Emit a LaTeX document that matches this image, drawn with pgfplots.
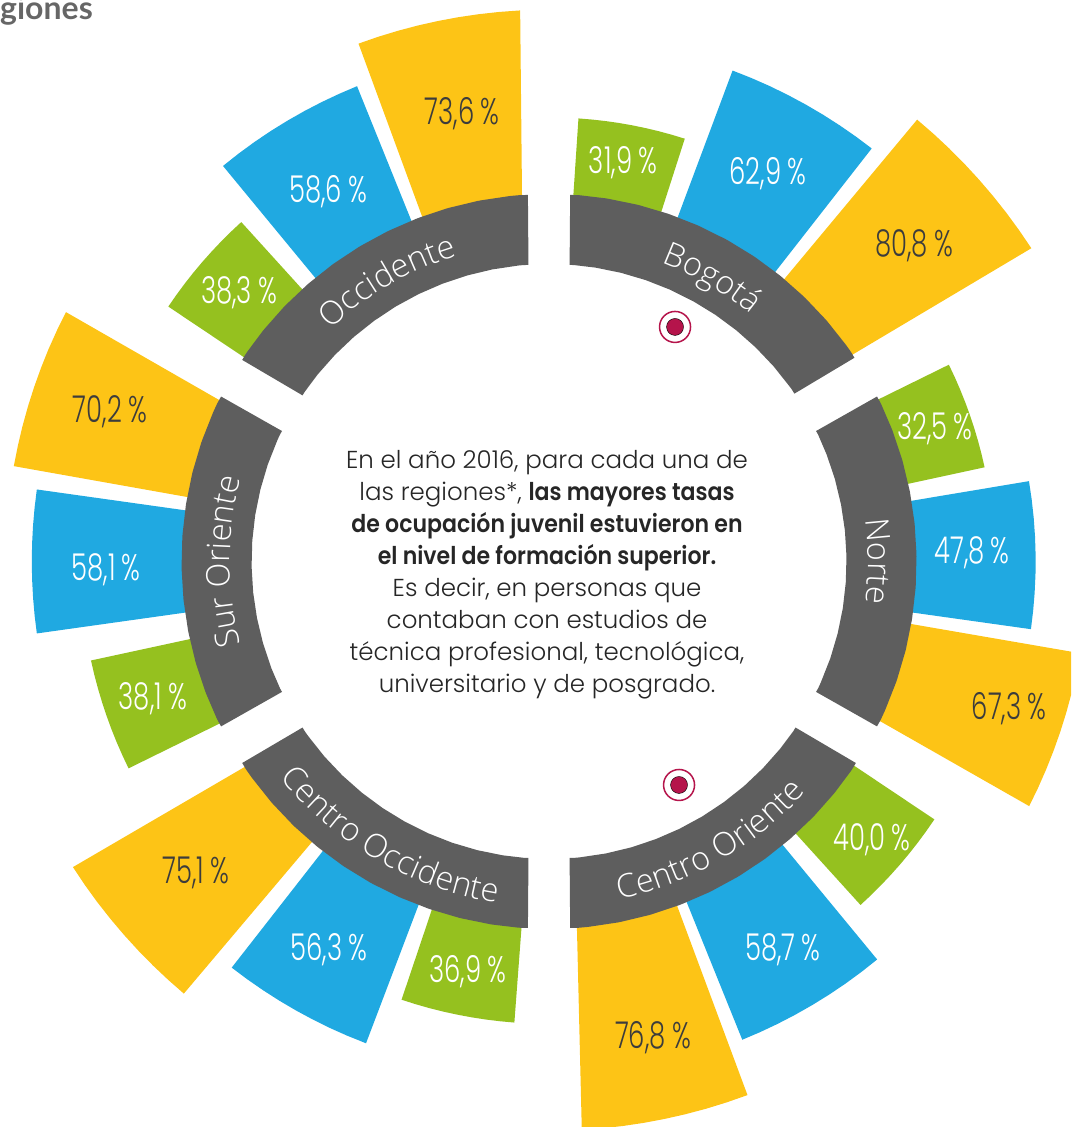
\documentclass[border=0pt]{standalone}
\usepackage{fontspec}
\usepackage{pgfplots}
\usepackage{pgfplotstable}
\pgfplotsset{compat=1.18}
\usetikzlibrary{decorations.text}
\setmainfont{Poppins Light}[BoldFont=Poppins SemiBold,BoldFeatures={FakeStretch=0.9}]
\newfontfamily\labf[FakeStretch=0.7]{Poppins Light}
\newfontfamily\ringf{Open Sans Light}
\newfontfamily\headf{Lato Bold}
\definecolor{amar}{HTML}{FDC416}
\definecolor{azul}{HTML}{20A9E1}
\definecolor{verde}{HTML}{95C11F}
\definecolor{anillo}{HTML}{5E5E5E}
\definecolor{rojo}{HTML}{B5144B}
\definecolor{oscuro}{HTML}{3C3C3C}

% a = angle in degrees, v = percent (v=-5 is the foot hidden under the ring)
% Bogota
\pgfplotstableread[row sep=\\]{a v\\ 86.2 -5\\ 86.2 31.9\\ 84.45 31.9\\ 82.7 31.9\\ 80.95 31.9\\ 79.2 31.9\\ 77.45 31.9\\ 75.7 31.9\\ 73.95 31.9\\ 72.2 31.9\\ 72.2 -5\\}\bogG
\pgfplotstableread[row sep=\\]{a v\\ 69.5 -5\\ 69.5 62.9\\ 67.3 62.9\\ 65.1 62.9\\ 62.9 62.9\\ 60.7 62.9\\ 58.5 62.9\\ 56.3 62.9\\ 54.15 62.9\\ 52 62.9\\ 52 -5\\}\bogB
\pgfplotstableread[row sep=\\]{a v\\ 50.2 -5\\ 50.2 80.8\\ 48.05 80.8\\ 45.9 80.8\\ 43.75 80.8\\ 41.6 80.8\\ 39.45 80.8\\ 37.3 80.8\\ 35.15 80.8\\ 33 80.8\\ 34.5 -5\\}\bogY
% Norte
\pgfplotstableread[row sep=\\]{a v\\ 26.2 -5\\ 26.2 32.5\\ 24.45 32.5\\ 22.7 32.5\\ 20.95 32.5\\ 19.2 32.5\\ 17.45 32.5\\ 15.7 32.5\\ 13.95 32.5\\ 12.2 32.5\\ 12.2 -5\\}\norG
\pgfplotstableread[row sep=\\]{a v\\ 9.5 -5\\ 9.5 47.8\\ 7.3 47.8\\ 5.1 47.8\\ 2.9 47.8\\ 0.7 47.8\\ -1.5 47.8\\ -3.7 47.8\\ -5.85 47.8\\ -8 47.8\\ -8 -5\\}\norB
\pgfplotstableread[row sep=\\]{a v\\ -9.8 -5\\ -9.8 67.3\\ -11.95 67.3\\ -14.1 67.3\\ -16.25 67.3\\ -18.4 67.3\\ -20.55 67.3\\ -22.7 67.3\\ -24.85 67.3\\ -27 67.3\\ -25.5 -5\\}\norY
% Centro Oriente
\pgfplotstableread[row sep=\\]{a v\\ -33.8 -5\\ -33.8 40.0\\ -35.55 40.0\\ -37.3 40.0\\ -39.05 40.0\\ -40.8 40.0\\ -42.55 40.0\\ -44.3 40.0\\ -46.05 40.0\\ -47.8 40.0\\ -47.8 -5\\}\corG
\pgfplotstableread[row sep=\\]{a v\\ -50.5 -5\\ -50.5 58.7\\ -52.7 58.7\\ -54.9 58.7\\ -57.1 58.7\\ -59.3 58.7\\ -61.5 58.7\\ -63.7 58.7\\ -65.85 58.7\\ -68 58.7\\ -68 -5\\}\corB
\pgfplotstableread[row sep=\\]{a v\\ -69.6 -5\\ -69.6 76.8\\ -71.8 76.8\\ -74 76.8\\ -76.2 76.8\\ -78.3 76.8\\ -80.4 76.8\\ -82.5 76.8\\ -84.6 76.8\\ -86.7 76.8\\ -85.5 -5\\}\corY
% Centro Occidente
\pgfplotstableread[row sep=\\]{a v\\ -94.3 -5\\ -94.3 36.9\\ -96.1 36.9\\ -97.9 36.9\\ -99.6 36.9\\ -101.45 36.9\\ -103.2 36.9\\ -105 36.9\\ -106.8 36.9\\ -108.6 36.9\\ -108.6 -5\\}\cocG
\pgfplotstableread[row sep=\\]{a v\\ -110.8 -5\\ -110.8 56.3\\ -113 56.3\\ -115.1 56.3\\ -117.3 56.3\\ -119.4 56.3\\ -121.5 56.3\\ -123.7 56.3\\ -125.8 56.3\\ -128 56.3\\ -128 -5\\}\cocB
\pgfplotstableread[row sep=\\]{a v\\ -130.2 -5\\ -130.2 75.1\\ -132.3 75.1\\ -134.4 75.1\\ -136.5 75.1\\ -138.7 75.1\\ -140.8 75.1\\ -143 75.1\\ -145.1 75.1\\ -147.3 75.1\\ -145.8 -5\\}\cocY
% Sur Oriente
\pgfplotstableread[row sep=\\]{a v\\ -153.8 -5\\ -153.8 38.1\\ -155.55 38.1\\ -157.3 38.1\\ -159.05 38.1\\ -160.8 38.1\\ -162.55 38.1\\ -164.3 38.1\\ -166.05 38.1\\ -167.8 38.1\\ -167.8 -5\\}\surG
\pgfplotstableread[row sep=\\]{a v\\ -172 -5\\ -172 58.1\\ -174 58.1\\ -176 58.1\\ -178 58.1\\ -180 58.1\\ -182 58.1\\ -184 58.1\\ -186 58.1\\ -188 58.1\\ -188 -5\\}\surB
\pgfplotstableread[row sep=\\]{a v\\ -190.1 -5\\ -190.1 70.2\\ -192.3 70.2\\ -194.4 70.2\\ -196.6 70.2\\ -198.7 70.2\\ -200.9 70.2\\ -203 70.2\\ -205.2 70.2\\ -207.3 70.2\\ -205.8 -5\\}\surY
% Occidente
\pgfplotstableread[row sep=\\]{a v\\ -213.8 -5\\ -213.8 38.3\\ -215.55 38.3\\ -217.3 38.3\\ -219.05 38.3\\ -220.8 38.3\\ -222.55 38.3\\ -224.3 38.3\\ -226.05 38.3\\ -227.8 38.3\\ -227.8 -5\\}\occG
\pgfplotstableread[row sep=\\]{a v\\ -230.5 -5\\ -230.5 58.6\\ -232.7 58.6\\ -234.9 58.6\\ -237.1 58.6\\ -239.3 58.6\\ -241.5 58.6\\ -243.7 58.6\\ -245.85 58.6\\ -248 58.6\\ -248 -5\\}\occB
\pgfplotstableread[row sep=\\]{a v\\ -249.8 -5\\ -249.8 73.6\\ -251.95 73.6\\ -254.1 73.6\\ -256.25 73.6\\ -258.4 73.6\\ -260.55 73.6\\ -262.7 73.6\\ -264.85 73.6\\ -267 73.6\\ -265.5 -5\\}\occY

% colour, radius correction in px, table
\newcommand{\Sec}[3]{\addplot[fill=#1,draw=none,forget plot] table[
  x expr={(358.5+#2+2.68*\thisrow{v})*cos(\thisrow{a})},
  y expr={(358.5+#2+2.68*\thisrow{v})*sin(\thisrow{a})}] {#3};}
\newcommand{\Lab}[4]{\node[text=#1,font=\labf\fontsize{37}{37}\selectfont,inner sep=0pt,yshift=-2pt] at (axis cs:#2,#3) {#4\,\%};}

\begin{document}
\begin{tikzpicture}
\useasboundingbox (0,0) rectangle (1071pt,1127pt);
\begin{axis}[
  at={(0,0)}, anchor=south west,
  scale only axis, width=1071pt, height=1127pt,
  xmin=-549, xmax=522, ymin=-565.5, ymax=561.5,
  hide axis]

\Sec{verde}{0}{\bogG} \Sec{azul}{-3}{\bogB} \Sec{amar}{0}{\bogY}
\Sec{verde}{0}{\norG} \Sec{azul}{0}{\norB} \Sec{amar}{0}{\norY}
\Sec{verde}{-2}{\corG} \Sec{azul}{0}{\corB} \Sec{amar}{5}{\corY}
\Sec{verde}{5}{\cocG} \Sec{azul}{6}{\cocB} \Sec{amar}{6}{\cocY}
\Sec{verde}{8}{\surG} \Sec{azul}{3}{\surB} \Sec{amar}{-3}{\surY}
\Sec{verde}{-3}{\occG} \Sec{azul}{-3}{\occB} \Sec{amar}{-4}{\occY}

% grey ring, one thick line per region; the short end pieces tilt the cut so the gaps stay parallel
\pgfplotsset{ring/.style={data cs=polar,draw=anillo,line width=70pt,line cap=butt,line join=round,no marks,forget plot}}
\addplot[ring] coordinates {(86.4,332.13)(85.4,332.5)(81,332.5)(76,332.5)(71,332.5)(66,332.5)(61,332.5)(56,332.5)(51,332.5)(46,332.5)(41,332.5)(36,332.5)(35,332.5)(34,332.13)};
\addplot[ring] coordinates {(26.4,332.13)(25.4,332.5)(21,332.5)(16,332.5)(11,332.5)(6,332.5)(1,332.5)(-4,332.5)(-9,332.5)(-14,332.5)(-19,332.5)(-24,332.5)(-25.4,332.5)(-26.4,332.13)};
\addplot[ring] coordinates {(-33.6,332.13)(-34.6,332.5)(-39,332.5)(-44,332.5)(-49,332.5)(-54,332.5)(-59,332.5)(-64,332.5)(-69,332.5)(-74,332.5)(-79,332.5)(-84,332.5)(-85.4,332.5)(-86.4,332.13)};
\addplot[ring] coordinates {(-93.6,332.13)(-94.6,332.5)(-99,332.5)(-104,332.5)(-109,332.5)(-114,332.5)(-119,332.5)(-124,332.5)(-129,332.5)(-134,332.5)(-139,332.5)(-144,332.5)(-145.4,332.5)(-146.4,332.13)};
\addplot[ring] coordinates {(-153.6,332.13)(-154.6,332.5)(-159,332.5)(-164,332.5)(-169,332.5)(-174,332.5)(-179,332.5)(-184,332.5)(-189,332.5)(-194,332.5)(-199,332.5)(-204,332.5)(-205.4,332.5)(-206.4,332.13)};
\addplot[ring] coordinates {(-213.6,332.13)(-214.6,332.5)(-219,332.5)(-224,332.5)(-229,332.5)(-234,332.5)(-239,332.5)(-244,332.5)(-249,332.5)(-254,332.5)(-259,332.5)(-264,332.5)(-265.4,332.5)(-266.4,332.13)};

% target icons
\addplot[only marks,mark=*,mark size=15.5pt,mark options={fill=white,draw=rojo,line width=1.5pt},forget plot] coordinates {(126,234.5)(130,-223.5)};
\addplot[only marks,mark=*,mark size=8.5pt,mark options={fill=rojo,draw=none},forget plot] coordinates {(126,234.5)(130,-223.5)};

\Lab{oscuro}{-87}{449.5}{73,6} \Lab{white}{-221}{371.5}{58,6} \Lab{white}{-310}{270.5}{38,3}
\Lab{white}{74}{400.5}{31,9} \Lab{white}{219}{389.5}{62,9} \Lab{oscuro}{365}{317.5}{80,8}
\Lab{white}{386}{134.5}{32,5} \Lab{white}{423}{10.5}{47,8} \Lab{oscuro}{460}{-145.5}{67,3}
\Lab{white}{323}{-276.5}{40,0} \Lab{white}{234}{-386.5}{58,7} \Lab{oscuro}{104}{-474.5}{76,8}
\Lab{white}{-81}{-408.5}{36,9} \Lab{white}{-220}{-386.5}{56,3} \Lab{oscuro}{-353}{-309.5}{75,1}
\Lab{white}{-396}{-135.5}{38,1} \Lab{white}{-443}{-6.5}{58,1} \Lab{oscuro}{-439}{151.5}{70,2}

\node[align=center,inner sep=0pt,text=black!85,font=\fontsize{24.5}{32}\selectfont] at (axis cs:-2,-13) {%
En el año 2016, para cada una de\\
las regiones*, \textbf{las mayores tasas}\\
\textbf{de ocupación juvenil estuvieron en}\\
\textbf{el nivel de formación superior.}\\
Es decir, en personas que\\
contaban con estudios de\\
técnica profesional, tecnológica,\\
universitario y de posgrado.};

\node[anchor=base west,inner sep=0pt,text=black!60,font=\headf\fontsize{32}{32}\selectfont] at (axis cs:-549,542) {giones};
\coordinate (c) at (axis cs:0,0);
\end{axis}

% region names along the ring
\begin{scope}[shift={(c)}]
\path[decorate,decoration={text along path,text align=center,text={|\ringf\fontsize{32.5}{32.5}\selectfont\color{white}|Bogotá}}]
  (86:319pt) arc[start angle=86,end angle=34,radius=319pt];
\path[decorate,decoration={text along path,text align=center,text={|\ringf\fontsize{32.5}{32.5}\selectfont\color{white}|Norte}}]
  (26:319pt) arc[start angle=26,end angle=-26,radius=319pt];
\path[decorate,decoration={text along path,text align=center,text={|\ringf\fontsize{32.5}{32.5}\selectfont\color{white}|Sur Oriente}}]
  (206:319pt) arc[start angle=206,end angle=154,radius=319pt];
\path[decorate,decoration={text along path,text align=center,text={|\ringf\fontsize{32.5}{32.5}\selectfont\color{white}|Occidente}}]
  (146:319pt) arc[start angle=146,end angle=94,radius=319pt];
\path[decorate,decoration={text along path,text align=center,text={|\ringf\fontsize{32.5}{32.5}\selectfont\color{white}|Centro Oriente}}]
  (-86:345pt) arc[start angle=-86,end angle=-34,radius=345pt];
\path[decorate,decoration={text along path,text align=center,text={|\ringf\fontsize{32.5}{32.5}\selectfont\color{white}|Centro Occidente}}]
  (-146:345pt) arc[start angle=-146,end angle=-94,radius=345pt];
\end{scope}
\end{tikzpicture}
\end{document}
